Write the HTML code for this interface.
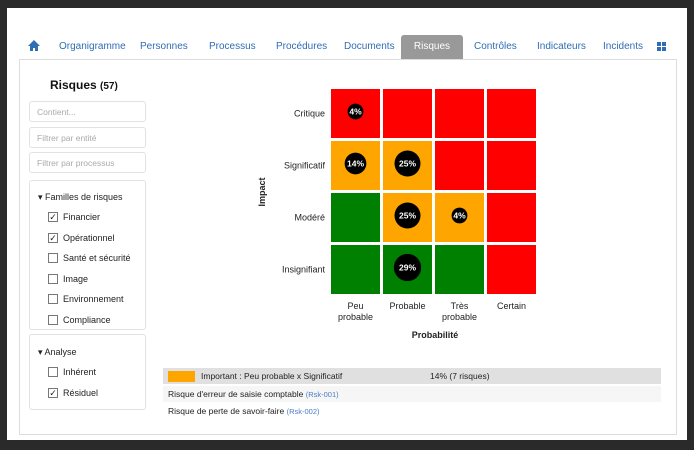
<!DOCTYPE html>
<html><head><meta charset="utf-8"><style>
body{margin:0;width:694px;height:450px;background:#2a2a2a;font-family:"Liberation Sans",sans-serif;position:relative;overflow:hidden}
.abs{position:absolute}
.tab{position:absolute;top:41px;font-size:10px;color:#2f6db5}
.inp{position:absolute;left:29px;width:117px;height:21px;border:1px solid #e2e2e2;border-radius:3px;font-size:8.5px;color:#aaa;line-height:21px;padding-left:7px;box-sizing:border-box}
.cb{position:absolute;left:48px;font-size:9px;color:#222;display:flex;align-items:center;height:12px}
.cb span{display:inline-block;width:10px;height:10px;border:1px solid #777;box-sizing:border-box;margin-right:5px;font-size:9px;line-height:9px;text-align:center}
</style></head><body>
<div class="abs" style="left:7px;top:8px;width:680px;height:432px;background:#fff"></div>
<svg class="abs" style="left:28px;top:40px" width="12" height="11"><path d="M6 0 L12 6 L10 6 L10 11 L7 11 L7 8 L5 8 L5 11 L2 11 L2 6 L0 6 Z" fill="#2f6db5"/></svg>
<div class="tab" style="left:59px">Organigramme</div>
<div class="tab" style="left:140px">Personnes</div>
<div class="tab" style="left:209px">Processus</div>
<div class="tab" style="left:276px">Procédures</div>
<div class="tab" style="left:344px">Documents</div>
<div class="abs" style="left:401px;top:35px;width:62px;height:24px;background:#999;border-radius:3px 3px 0 0;color:#fff;font-size:10px;text-align:center;line-height:24px">Risques</div>
<div class="tab" style="left:474px">Contrôles</div>
<div class="tab" style="left:537px">Indicateurs</div>
<div class="tab" style="left:603px">Incidents</div>
<div class="abs" style="left:657px;top:42px;width:9px;height:9px;background:linear-gradient(#fff,#fff) 4px 0/1px 9px no-repeat,linear-gradient(#fff,#fff) 0 4px/9px 1px no-repeat,#2f6db5"></div>
<div class="abs" style="left:19px;top:59px;width:658px;height:376px;border:1px solid #ddd;box-sizing:border-box"></div>
<div class="abs" style="left:50px;top:78px;font-size:12px;font-weight:bold;color:#111">Risques <span style="font-size:10px">(57)</span></div>
<div class="inp" style="top:101px">Contient...</div>
<div class="inp" style="top:127px">Filtrer par entité</div>
<div class="inp" style="top:152px">Filtrer par processus</div>
<div class="abs" style="left:29px;top:180px;width:117px;height:150px;border:1px solid #e2e2e2;border-radius:3px;box-sizing:border-box"></div>
<div class="abs" style="left:38px;top:192px;font-size:9px;color:#222">&#9662; Familles de risques</div>
<div class="cb" style="top:211px"><span>✓</span>Financier</div>
<div class="cb" style="top:232px"><span>✓</span>Opérationnel</div>
<div class="cb" style="top:252px"><span></span>Santé et sécurité</div>
<div class="cb" style="top:273px"><span></span>Image</div>
<div class="cb" style="top:293px"><span></span>Environnement</div>
<div class="cb" style="top:314px"><span></span>Compliance</div>
<div class="abs" style="left:29px;top:334px;width:117px;height:76px;border:1px solid #e2e2e2;border-radius:3px;box-sizing:border-box"></div>
<div class="abs" style="left:38px;top:347px;font-size:9px;color:#222">&#9662; Analyse</div>
<div class="cb" style="top:366px"><span></span>Inhérent</div>
<div class="cb" style="top:387px"><span>✓</span>Résiduel</div>

<svg id="chart" class="abs" style="left:0;top:0" width="694" height="450"></svg>

<div class="abs" style="left:163px;top:368px;width:498px;height:16px;background:#e0e0e0"></div>
<div class="abs" style="left:168px;top:371px;width:27px;height:11px;background:#ffa500"></div>
<div class="abs" style="left:201px;top:371px;font-size:8.5px;color:#222">Important : Peu probable x Significatif</div>
<div class="abs" style="left:430px;top:371px;font-size:8.5px;color:#222">14% (7 risques)</div>
<div class="abs" style="left:163px;top:386px;width:498px;height:16px;background:#f6f6f6;font-size:8.5px;color:#222;line-height:16px;padding-left:5px;box-sizing:border-box">Risque d'erreur de saisie comptable <span style="color:#4a7cc4;font-size:7.5px">(Rsk-001)</span></div>
<div class="abs" style="left:163px;top:403px;width:498px;height:16px;font-size:8.5px;color:#222;line-height:16px;padding-left:5px;box-sizing:border-box">Risque de perte de savoir-faire <span style="color:#4a7cc4;font-size:7.5px">(Rsk-002)</span></div>

<script>
const probLabels=[["Peu","probable"],["Probable"],["Très","probable"],["Certain"]];
const impactLabels=["Critique","Significatif","Modéré","Insignifiant"];
const cellColors=[["red","red","red","red"],["orange","orange","red","red"],["green","orange","orange","red"],["green","green","green","red"]];
const bubbleRow=[0,1,1,2,2,3];
const bubbleCol=[0,0,1,1,2,1];
const bubbleVals=[4,14,25,25,4,29];
const palette={red:"#ff0000",orange:"#ffa500",green:"#008000"};
const L=331,T=89,STEP=52,CS=49;
const xs=c=>L+c*STEP, ys=r=>T+r*STEP, rad=v=>4.5+1.7*Math.sqrt(v);
const svg=document.getElementById('chart');const NS="http://www.w3.org/2000/svg";
function mk(t,a){const e=document.createElementNS(NS,t);for(const k in a)e.setAttribute(k,a[k]);svg.appendChild(e);return e;}
cellColors.forEach((row,r)=>row.forEach((c,ci)=>{const e=mk('rect',{x:xs(ci),y:ys(r),width:CS,height:CS,fill:palette[c]});

}));
impactLabels.forEach((t,r)=>{const e=mk('text',{x:L-6,y:ys(r)+CS/2+3,'text-anchor':'end','font-size':9,fill:'#222'});e.textContent=t;

});
probLabels.forEach((ls,c)=>{ls.forEach((t,i)=>{const e=mk('text',{x:xs(c)+CS/2,y:T+4*STEP+12+i*11,'text-anchor':'middle','font-size':9,fill:'#222'});e.textContent=t;

});});
let e=mk('text',{x:435,y:338,'text-anchor':'middle','font-size':9,'font-weight':'bold',fill:'#222'});e.textContent='Probabilité';


e=mk('text',{x:265,y:192,'text-anchor':'middle','font-size':9,'font-weight':'bold',fill:'#222',transform:'rotate(-90 265 192)'});e.textContent='Impact';


bubbleVals.forEach((v,i)=>{const cx=xs(bubbleCol[i])+CS/2,cy=ys(bubbleRow[i])+CS/2-2;
const c=mk('circle',{cx:cx,cy:cy,r:rad(v),fill:'#000'});


const t=mk('text',{x:cx,y:cy+3,'text-anchor':'middle','font-size':8.5,'font-weight':'bold',fill:'#fff'});t.textContent=v+'%';

});
</script>
</body></html>
